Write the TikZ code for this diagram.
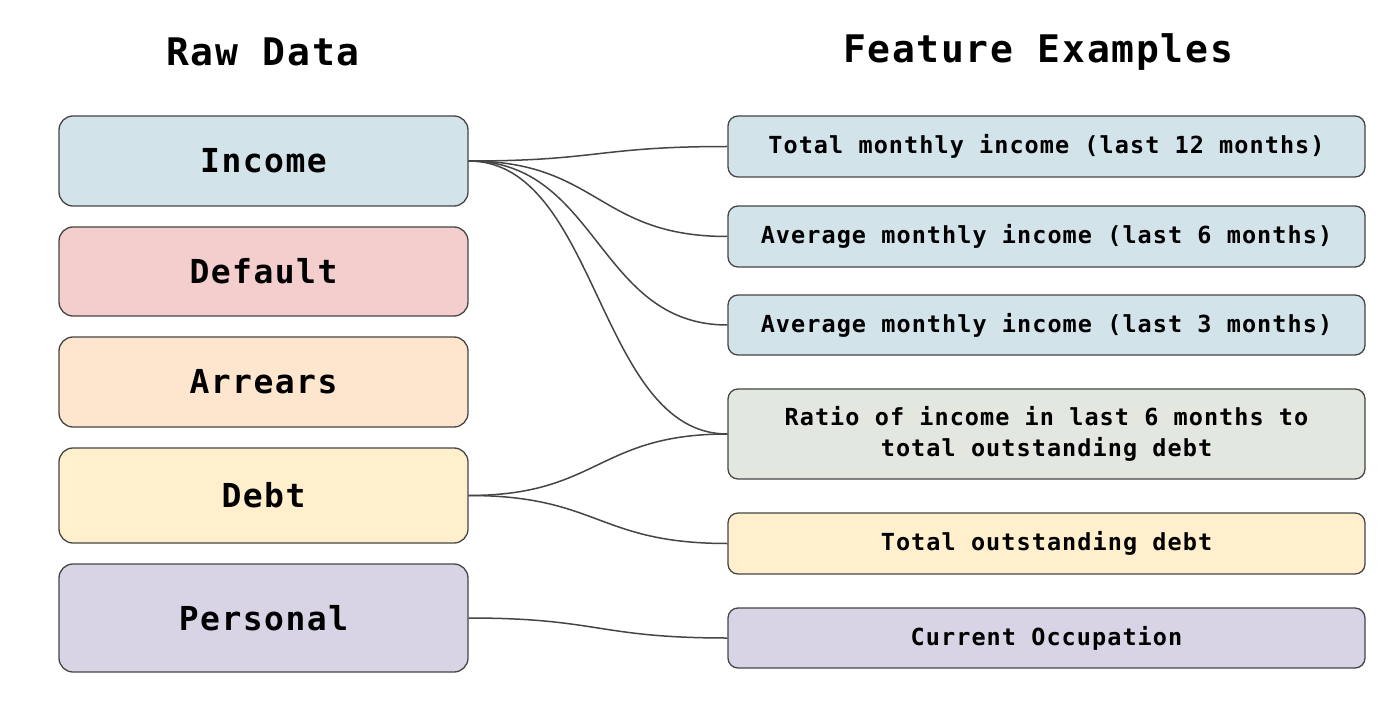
\documentclass[tikz,border=0pt]{standalone}
\usepackage{fontspec}
\setmonofont{DejaVu Sans Mono}[LetterSpace=4.5]
\definecolor{cinc}{HTML}{D3E3EA}
\definecolor{cdef}{HTML}{F4CDCD}
\definecolor{carr}{HTML}{FDE5CE}
\definecolor{cdebt}{HTML}{FFEFCD}
\definecolor{cper}{HTML}{D8D4E6}
\definecolor{crat}{HTML}{E2E8E0}
\definecolor{cline}{HTML}{454545}
\begin{document}
\begin{tikzpicture}[x=1pt,y=-1pt,
  title/.style={font=\ttfamily\bfseries\fontsize{38}{44}\selectfont, text=black},
  rawbox/.style={draw=cline, line width=1.3pt, rounded corners=14pt, minimum width=409pt, inner sep=0pt, font=\ttfamily\bfseries\fontsize{33}{38}\selectfont},
  featbox/.style={draw=cline, line width=1.3pt, rounded corners=10pt, minimum width=637pt, inner sep=0pt, align=center, font=\ttfamily\bfseries\fontsize{23.5}{31}\selectfont},
  link/.style={draw=cline, line width=1.5pt}
]
\useasboundingbox (0,0) rectangle (1400,714);
\node[title] (t1) at (263,52) {Raw Data};
\node[title] (t2) at (1038,52) {Feature Examples};

\node[rawbox, fill=cinc, minimum height=90pt] (inc) at (263.5,161) {Income};
\node[rawbox, fill=cdef, minimum height=89pt] (def) at (263.5,271.5) {Default};
\node[rawbox, fill=carr, minimum height=90pt] (arr) at (263.5,382) {Arrears};
\node[rawbox, fill=cdebt, minimum height=95pt] (debt) at (263.5,495.5) {Debt};
\node[rawbox, fill=cper, minimum height=108pt] (per) at (263.5,618) {Personal};

\node[featbox, fill=cinc, minimum height=61pt] (f1) at (1046.5,146.5) {Total monthly income (last 12 months)};
\node[featbox, fill=cinc, minimum height=61pt] (f2) at (1046.5,236.5) {Average monthly income (last 6 months)};
\node[featbox, fill=cinc, minimum height=60pt] (f3) at (1046.5,325) {Average monthly income (last 3 months)};
\node[featbox, fill=crat, minimum height=90pt] (f4) at (1046.5,434) {Ratio of income in last 6 months to\\total outstanding debt};
\node[featbox, fill=cdebt, minimum height=61pt] (f5) at (1046.5,543.5) {Total outstanding debt};
\node[featbox, fill=cper, minimum height=60pt] (f6) at (1046.5,638) {Current Occupation};

\draw[link] (inc.east) .. controls +(130,0) and +(-130,0) .. (f1.west);
\draw[link] (inc.east) .. controls +(130,0) and +(-130,0) .. (f2.west);
\draw[link] (inc.east) .. controls +(130,0) and +(-130,0) .. (f3.west);
\draw[link] (inc.east) .. controls +(130,0) and +(-130,0) .. (f4.west);
\draw[link] (debt.east) .. controls +(130,0) and +(-130,0) .. (f4.west);
\draw[link] (debt.east) .. controls +(130,0) and +(-130,0) .. (f5.west);
\draw[link] (per.east) .. controls +(130,0) and +(-130,0) .. (f6.west);
\end{tikzpicture}
\end{document}
